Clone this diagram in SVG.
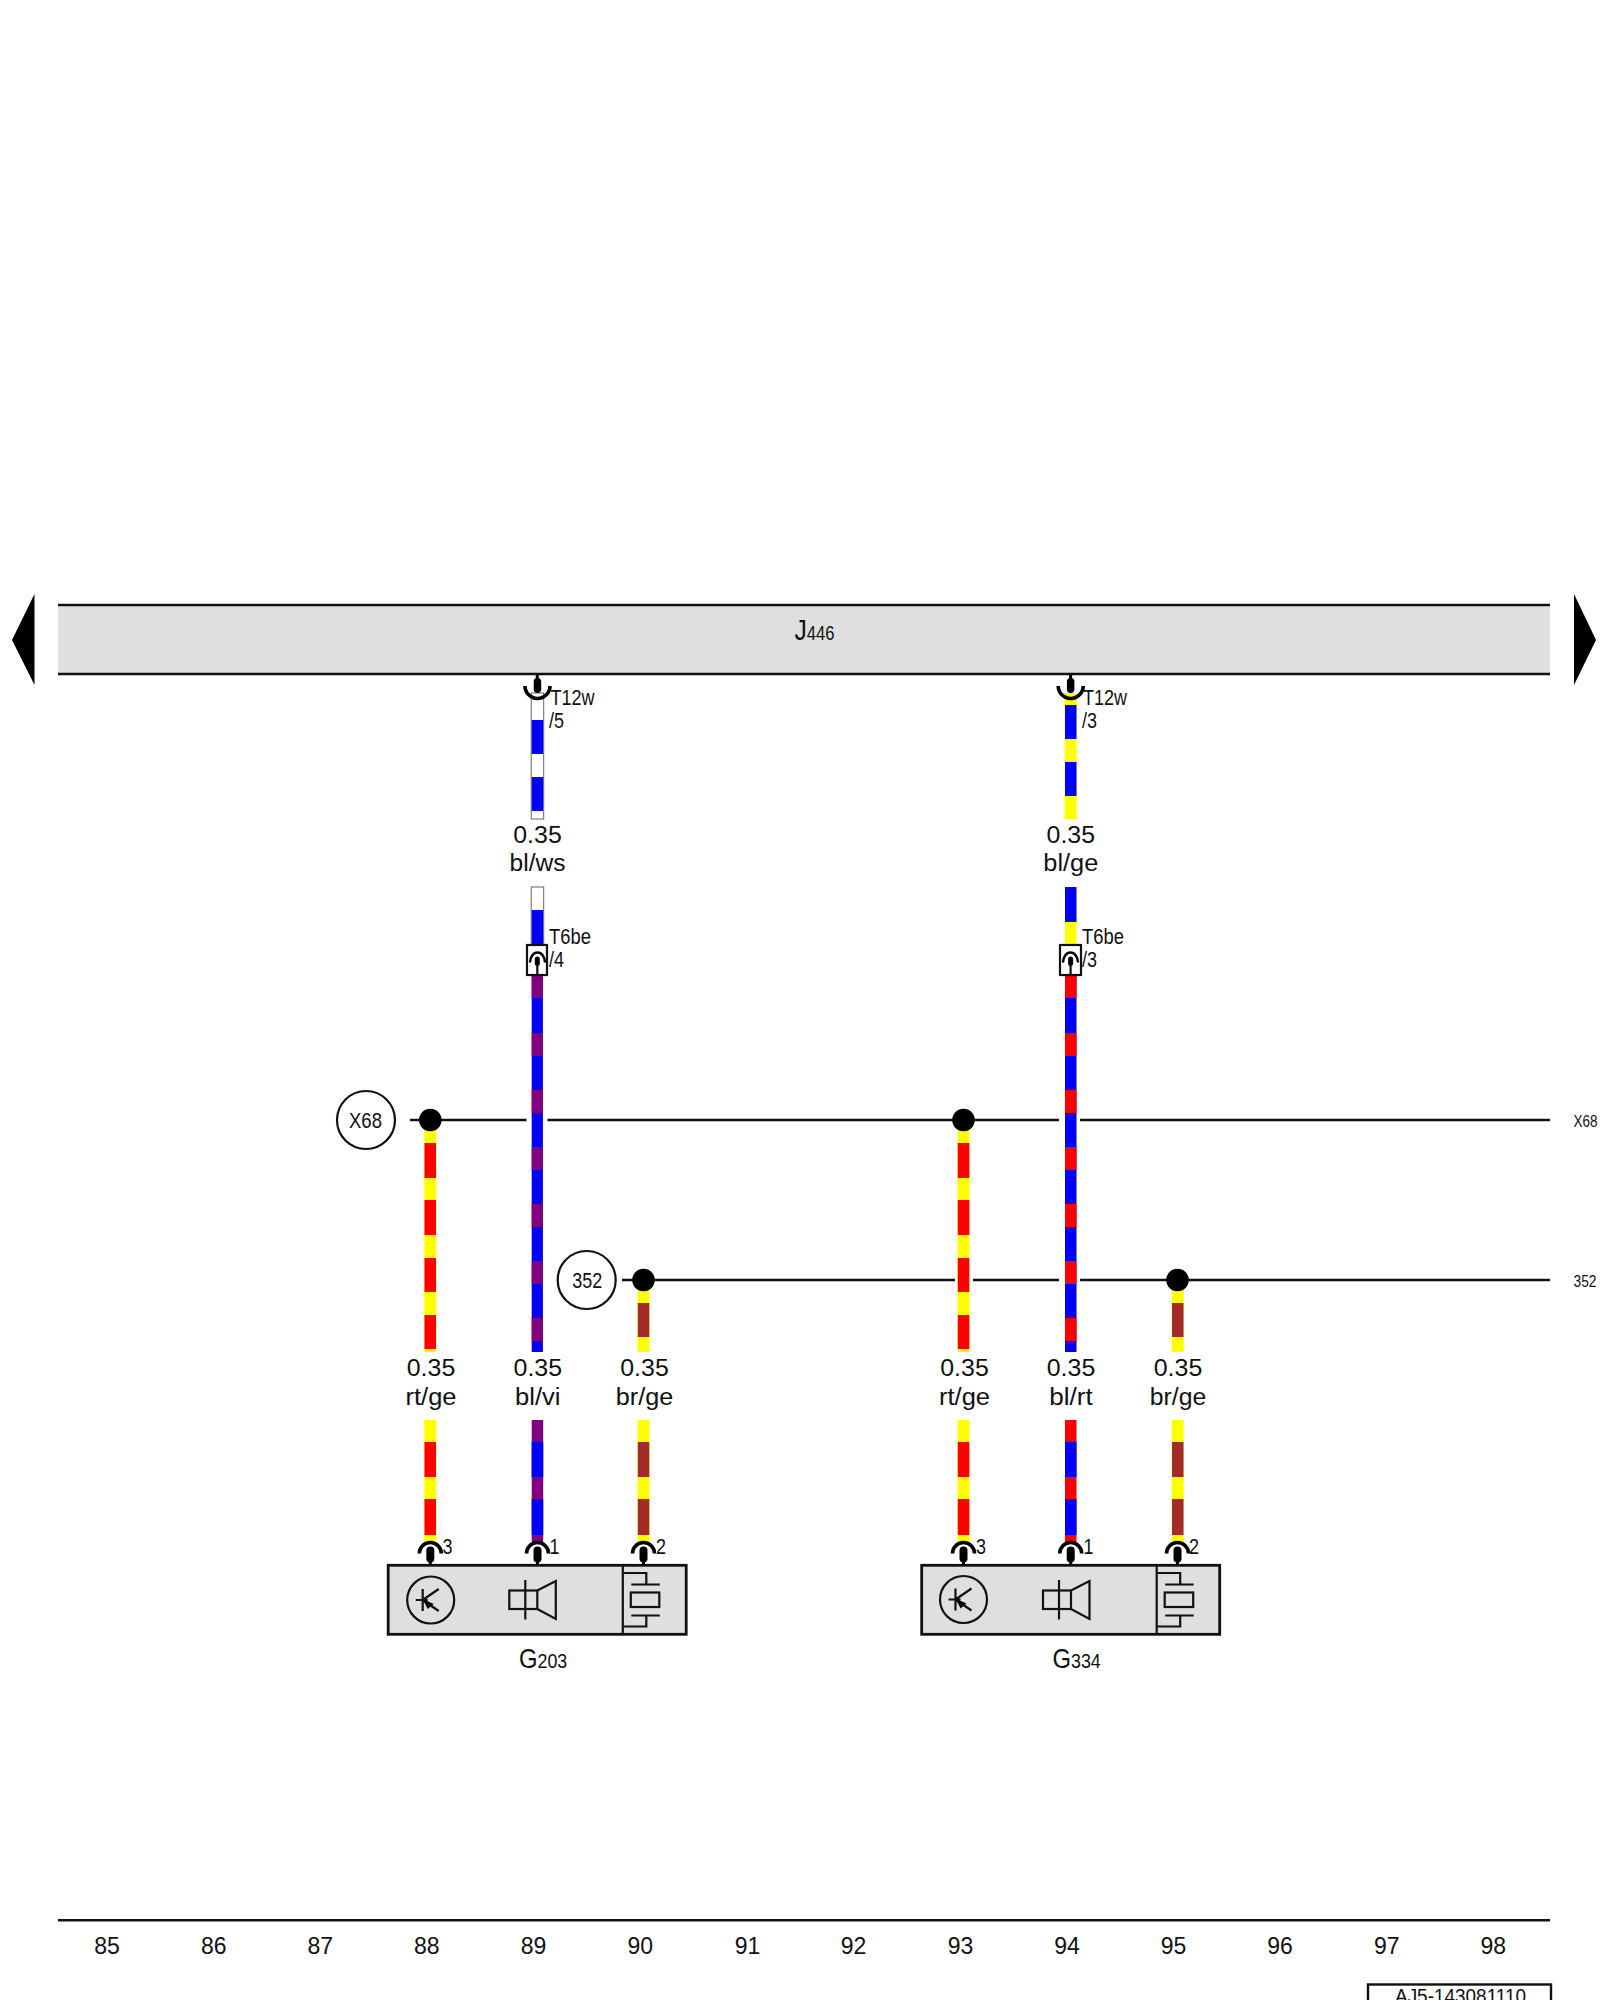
<svg xmlns="http://www.w3.org/2000/svg" width="1600" height="2000" viewBox="0 0 1600 2000">
<style>
text{font-family:"Liberation Sans",Arial,sans-serif;fill:#111}
.l{stroke:#111;stroke-width:2.4;fill:none}
.s{stroke:#111;stroke-width:2.2;fill:none}
.box{fill:#dfdfdf;stroke:#111;stroke-width:2.8}
.dot{fill:#000}
.ring{fill:#fff;stroke:#111;stroke-width:2.2}
.c{stroke:#000;stroke-width:3.6;fill:none}
.w{stroke:#000;stroke-width:3}
.t{font-size:23px;text-anchor:middle}
.p{font-size:23px;text-anchor:middle}
.m{font-size:22px}
.y{fill:#ff0}.r{fill:#f00}.b{fill:#00f}.v{fill:#800080}.br{fill:#a52a2a}.h{fill:#fff;stroke:#666;stroke-width:1}
</style>
<defs>
<g id="pin-up">
<path class="c" d="M-11 8.500A11 11 0 0 1 11 8.500"/>
<rect x="-4" y="1.500" width="8" height="16" rx="4" class="dot"/>
<path class="w" d="M0 14V20"/>
</g>
<g id="sensor">
<circle class="s" cx="0" cy="0" r="23.500"/>
<path class="s" d="M-8 -11V11M-15 0H-3M-8 0L8 -11M-8 0L8 11"/>
<path class="dot" d="M-8 -1L3 4L-3 9Z"/>
</g>
<g id="speaker">
<rect class="s" x="-28" y="-9.500" width="28" height="18.500"/>
<path class="s" d="M-12 -20V19.500M0 -9.500L18.500 -19V19L0 9"/>
</g>
<g id="crystal">
<path class="s" d="M0 -27H23.500V-15.500M8.500 -15.500H37M8.500 15.500H37M23.500 15.500V26.500H0"/>
<rect class="s" x="8" y="-7.500" width="28.500" height="14.500"/>
</g>
</defs>

<g id="bus-J446">
<rect x="58" y="605" width="1492" height="69" fill="#dfdfdf"/>
<path class="l" d="M58 605H1550M58 674H1550"/>
<text transform="translate(794.500 639.500) scale(.85 1)"><tspan font-size="29">J</tspan><tspan font-size="19.500">446</tspan></text>
</g>
<path id="nav-left" class="dot" d="M12 640L34.500 594V685Z"/>
<path id="nav-right" class="dot" d="M1596 640L1574 594V685Z"/>

<g id="connectors">
<g id="rails">
<path class="l" d="M410 1120H526.500M547.500 1120H1059M1080 1120H1550"/>
<path class="l" d="M622 1280H955M973 1280H1059M1080 1280H1550"/>
</g>
<g id="wire-bl-ws-top">
<rect class="h" x="531.200" y="693" width="12.500" height="126"/>
<rect class="b" x="531.700" y="720" width="11.500" height="34"/>
<rect class="b" x="531.700" y="777" width="11.500" height="34"/>
</g>
<g id="wire-bl-ge-top">
<rect class="y" x="1064.700" y="693" width="12" height="126"/>
<rect class="b" x="1065" y="705" width="11.500" height="34"/>
<rect class="b" x="1065" y="762" width="11.500" height="34"/>
</g>
<g id="wire-bl-ws-vi">
<rect class="h" x="531.200" y="887" width="12.500" height="60"/>
<rect class="b" x="531.700" y="910" width="11.500" height="37"/>
<rect class="b" x="531.700" y="975" width="11.200" height="377"/>
<rect class="v" x="531.700" y="975" width="11.200" height="23"/>
<rect class="v" x="531.700" y="1033" width="11.200" height="23"/>
<rect class="v" x="531.700" y="1090" width="11.200" height="23"/>
<rect class="v" x="531.700" y="1147" width="11.200" height="23"/>
<rect class="v" x="531.700" y="1204" width="11.200" height="23"/>
<rect class="v" x="531.700" y="1261" width="11.200" height="23"/>
<rect class="v" x="531.700" y="1318" width="11.200" height="23"/>
</g>
<g id="wire-bl-ge-rt">
<rect class="b" x="1065" y="887" width="11.500" height="35"/>
<rect class="y" x="1065" y="922" width="11.500" height="25"/>
<rect class="b" x="1065" y="975" width="11.500" height="377"/>
<rect class="r" x="1065" y="975" width="11.500" height="23"/>
<rect class="r" x="1065" y="1033" width="11.500" height="23"/>
<rect class="r" x="1065" y="1090" width="11.500" height="23"/>
<rect class="r" x="1065" y="1147" width="11.500" height="23"/>
<rect class="r" x="1065" y="1204" width="11.500" height="23"/>
<rect class="r" x="1065" y="1261" width="11.500" height="23"/>
<rect class="r" x="1065" y="1318" width="11.500" height="23"/>
</g>
<g id="wire-rt-ge-1">
<rect class="y" x="424.300" y="1128" width="12" height="224"/>
<rect class="r" x="424.500" y="1143" width="11.500" height="35"/>
<rect class="r" x="424.500" y="1200" width="11.500" height="35"/>
<rect class="r" x="424.500" y="1258" width="11.500" height="34"/>
<rect class="r" x="424.500" y="1315" width="11.500" height="34"/>
</g>
<g id="wire-rt-ge-2">
<rect class="y" x="957.500" y="1128" width="12" height="224"/>
<rect class="r" x="957.800" y="1143" width="11.500" height="35"/>
<rect class="r" x="957.800" y="1200" width="11.500" height="35"/>
<rect class="r" x="957.800" y="1258" width="11.500" height="34"/>
<rect class="r" x="957.800" y="1315" width="11.500" height="34"/>
</g>
<g id="wire-br-ge-1">
<rect class="y" x="637.500" y="1288" width="12" height="64"/>
<rect class="br" x="637.800" y="1303" width="11.500" height="34"/>
</g>
<g id="wire-br-ge-2">
<rect class="y" x="1171.700" y="1288" width="12" height="64"/>
<rect class="br" x="1172" y="1303" width="11.500" height="34"/>
</g>
<g id="wire-lower-rt-ge-1">
<rect class="y" x="424.300" y="1420" width="12" height="124"/>
<rect class="r" x="424.500" y="1442" width="11.500" height="35"/>
<rect class="r" x="424.500" y="1499" width="11.500" height="36"/>
</g>
<g id="wire-lower-bl-vi">
<rect class="v" x="531.700" y="1420" width="11.500" height="124"/>
<rect class="b" x="531.700" y="1442" width="11.500" height="35"/>
<rect class="b" x="531.700" y="1499" width="11.500" height="36"/>
</g>
<g id="wire-lower-br-ge-1">
<rect class="y" x="637.500" y="1420" width="12" height="124"/>
<rect class="br" x="637.800" y="1442" width="11.500" height="35"/>
<rect class="br" x="637.800" y="1499" width="11.500" height="36"/>
</g>
<g id="wire-lower-rt-ge-2">
<rect class="y" x="957.500" y="1420" width="12" height="124"/>
<rect class="r" x="957.800" y="1442" width="11.500" height="35"/>
<rect class="r" x="957.800" y="1499" width="11.500" height="36"/>
</g>
<g id="wire-lower-bl-rt">
<rect class="r" x="1065" y="1420" width="11.500" height="124"/>
<rect class="b" x="1065" y="1442" width="11.500" height="35"/>
<rect class="b" x="1065" y="1499" width="11.500" height="36"/>
</g>
<g id="wire-lower-br-ge-2">
<rect class="y" x="1171.700" y="1420" width="12" height="124"/>
<rect class="br" x="1172" y="1442" width="11.500" height="35"/>
<rect class="br" x="1172" y="1499" width="11.500" height="36"/>
</g>
</g>

<g id="splice-dots">
<circle class="dot" cx="430.300" cy="1120" r="11.300"/>
<circle class="dot" cx="963.500" cy="1120" r="11.300"/>
<circle class="dot" cx="643.500" cy="1280" r="11.300"/>
<circle class="dot" cx="1177.500" cy="1280" r="11.300"/>
</g>

<g id="T12w-5">
<path class="w" d="M537.300 675V682"/>
<rect x="533.700" y="678" width="7.500" height="15" rx="3.700" class="dot"/>
<path class="c" d="M525 686A12.500 12.500 0 0 0 550 686"/>
<text class="m" x="550.500" y="705" textLength="44" lengthAdjust="spacingAndGlyphs">T12w</text>
<text class="m" x="549" y="727.700" textLength="15" lengthAdjust="spacingAndGlyphs">/5</text>
</g>
<g id="T12w-3">
<path class="w" d="M1070.600 675V682"/>
<rect x="1066.900" y="678" width="7.500" height="15" rx="3.700" class="dot"/>
<path class="c" d="M1058.200 686A12.500 12.500 0 0 0 1083.200 686"/>
<text class="m" x="1083" y="705" textLength="44" lengthAdjust="spacingAndGlyphs">T12w</text>
<text class="m" x="1082" y="727.700" textLength="15" lengthAdjust="spacingAndGlyphs">/3</text>
</g>
<g id="T6be-4">
<rect x="527" y="945" width="20" height="30" fill="#fff" stroke="#111" stroke-width="2.2"/>
<path class="c" style="stroke-width:2.4" d="M530 962.500A7.500 10 0 0 1 545 962.500"/>
<rect x="534.800" y="956.500" width="5" height="9.500" rx="2.500" class="dot"/>
<path class="s" d="M537.300 964V975"/>
<text class="m" x="549" y="944" textLength="42" lengthAdjust="spacingAndGlyphs">T6be</text>
<text class="m" x="549" y="967.300" textLength="15" lengthAdjust="spacingAndGlyphs">/4</text>
</g>
<g id="T6be-3">
<rect x="1060" y="945" width="21" height="30" fill="#fff" stroke="#111" stroke-width="2.2"/>
<path class="c" style="stroke-width:2.4" d="M1063 962.500A7.500 10 0 0 1 1078 962.500"/>
<rect x="1068.100" y="956.500" width="5" height="9.500" rx="2.500" class="dot"/>
<path class="s" d="M1070.600 964V975"/>
<text class="m" x="1082" y="944" textLength="42" lengthAdjust="spacingAndGlyphs">T6be</text>
<text class="m" x="1082" y="967.300" textLength="15" lengthAdjust="spacingAndGlyphs">/3</text>
</g>

<g id="ref-X68">
<circle class="ring" cx="366" cy="1120" r="29"/>
<text x="349" y="1127.700" font-size="22" textLength="33" lengthAdjust="spacingAndGlyphs">X68</text>
</g>
<g id="ref-352">
<circle class="ring" cx="586.700" cy="1280" r="29"/>
<text x="572.200" y="1287.500" font-size="22" textLength="30" lengthAdjust="spacingAndGlyphs">352</text>
</g>
<text id="rail-label-X68" x="1573.500" y="1127" font-size="17" textLength="24" lengthAdjust="spacingAndGlyphs">X68</text>
<text id="rail-label-352" x="1573.500" y="1286.700" font-size="17" textLength="23" lengthAdjust="spacingAndGlyphs">352</text>

<g id="wire-labels">
<text class="t" x="537.500" y="842.700" textLength="48.500" lengthAdjust="spacingAndGlyphs">0.35</text>
<text class="t" x="537.500" y="871" textLength="56" lengthAdjust="spacingAndGlyphs">bl/ws</text>
<text class="t" x="1070.800" y="842.700" textLength="48.500" lengthAdjust="spacingAndGlyphs">0.35</text>
<text class="t" x="1070.800" y="871" textLength="55" lengthAdjust="spacingAndGlyphs">bl/ge</text>
<text class="t" x="431" y="1376" textLength="48.500" lengthAdjust="spacingAndGlyphs">0.35</text>
<text class="t" x="431" y="1404.500" textLength="51" lengthAdjust="spacingAndGlyphs">rt/ge</text>
<text class="t" x="537.800" y="1376" textLength="48.500" lengthAdjust="spacingAndGlyphs">0.35</text>
<text class="t" x="537.800" y="1404.500" textLength="45.500" lengthAdjust="spacingAndGlyphs">bl/vi</text>
<text class="t" x="644.500" y="1376" textLength="48.500" lengthAdjust="spacingAndGlyphs">0.35</text>
<text class="t" x="644.500" y="1404.500" textLength="57.500" lengthAdjust="spacingAndGlyphs">br/ge</text>
<text class="t" x="964.500" y="1376" textLength="48.500" lengthAdjust="spacingAndGlyphs">0.35</text>
<text class="t" x="964.500" y="1404.500" textLength="51" lengthAdjust="spacingAndGlyphs">rt/ge</text>
<text class="t" x="1071" y="1376" textLength="48.500" lengthAdjust="spacingAndGlyphs">0.35</text>
<text class="t" x="1071" y="1404.500" textLength="43.500" lengthAdjust="spacingAndGlyphs">bl/rt</text>
<text class="t" x="1178" y="1376" textLength="48.500" lengthAdjust="spacingAndGlyphs">0.35</text>
<text class="t" x="1178" y="1404.500" textLength="56.500" lengthAdjust="spacingAndGlyphs">br/ge</text>
</g>

<g id="G203">
<rect class="box" x="388.200" y="1565.300" width="298" height="69"/>
<path class="s" d="M622.800 1565V1634"/>
<use href="#pin-up" x="430.300" y="1545"/>
<use href="#pin-up" x="537.500" y="1545"/>
<use href="#pin-up" x="643.500" y="1545"/>
<use href="#sensor" x="430.700" y="1600"/>
<use href="#speaker" x="537.300" y="1600"/>
<use href="#crystal" x="622.800" y="1600"/>
<text class="m" x="442.500" y="1554" textLength="10" lengthAdjust="spacingAndGlyphs">3</text>
<text class="m" x="549.500" y="1554" textLength="10" lengthAdjust="spacingAndGlyphs">1</text>
<text class="m" x="656" y="1554" textLength="10" lengthAdjust="spacingAndGlyphs">2</text>
<text transform="translate(519 1668) scale(.85 1)"><tspan font-size="28">G</tspan><tspan font-size="21">203</tspan></text>
</g>
<g id="G334">
<rect class="box" x="921.700" y="1565.300" width="298" height="69"/>
<path class="s" d="M1156.700 1565V1634"/>
<use href="#pin-up" x="963.500" y="1545"/>
<use href="#pin-up" x="1070.700" y="1545"/>
<use href="#pin-up" x="1177.500" y="1545"/>
<use href="#sensor" x="963.500" y="1599.500"/>
<use href="#speaker" x="1071" y="1600"/>
<use href="#crystal" x="1156.700" y="1600"/>
<text class="m" x="976" y="1554" textLength="10" lengthAdjust="spacingAndGlyphs">3</text>
<text class="m" x="1083.500" y="1554" textLength="10" lengthAdjust="spacingAndGlyphs">1</text>
<text class="m" x="1189" y="1554" textLength="10" lengthAdjust="spacingAndGlyphs">2</text>
<text transform="translate(1052.500 1668) scale(.85 1)"><tspan font-size="28">G</tspan><tspan font-size="21">334</tspan></text>
</g>

<g id="footer">
<path class="l" d="M58 1920.300H1550"/>
<text class="p" x="107" y="1954">85</text>
<text class="p" x="213.700" y="1954">86</text>
<text class="p" x="320.300" y="1954">87</text>
<text class="p" x="426.800" y="1954">88</text>
<text class="p" x="533.500" y="1954">89</text>
<text class="p" x="640.300" y="1954">90</text>
<text class="p" x="747.500" y="1954">91</text>
<text class="p" x="853.500" y="1954">92</text>
<text class="p" x="960.500" y="1954">93</text>
<text class="p" x="1067" y="1954">94</text>
<text class="p" x="1173.500" y="1954">95</text>
<text class="p" x="1280" y="1954">96</text>
<text class="p" x="1386.700" y="1954">97</text>
<text class="p" x="1493.300" y="1954">98</text>
</g>
<g id="doc-number">
<rect x="1368" y="1984.500" width="183" height="40" fill="#fff" stroke="#111" stroke-width="2.400"/>
<text x="1395" y="2003" font-size="20" textLength="131" lengthAdjust="spacingAndGlyphs">AJ5-143081110</text>
</g>
</svg>
